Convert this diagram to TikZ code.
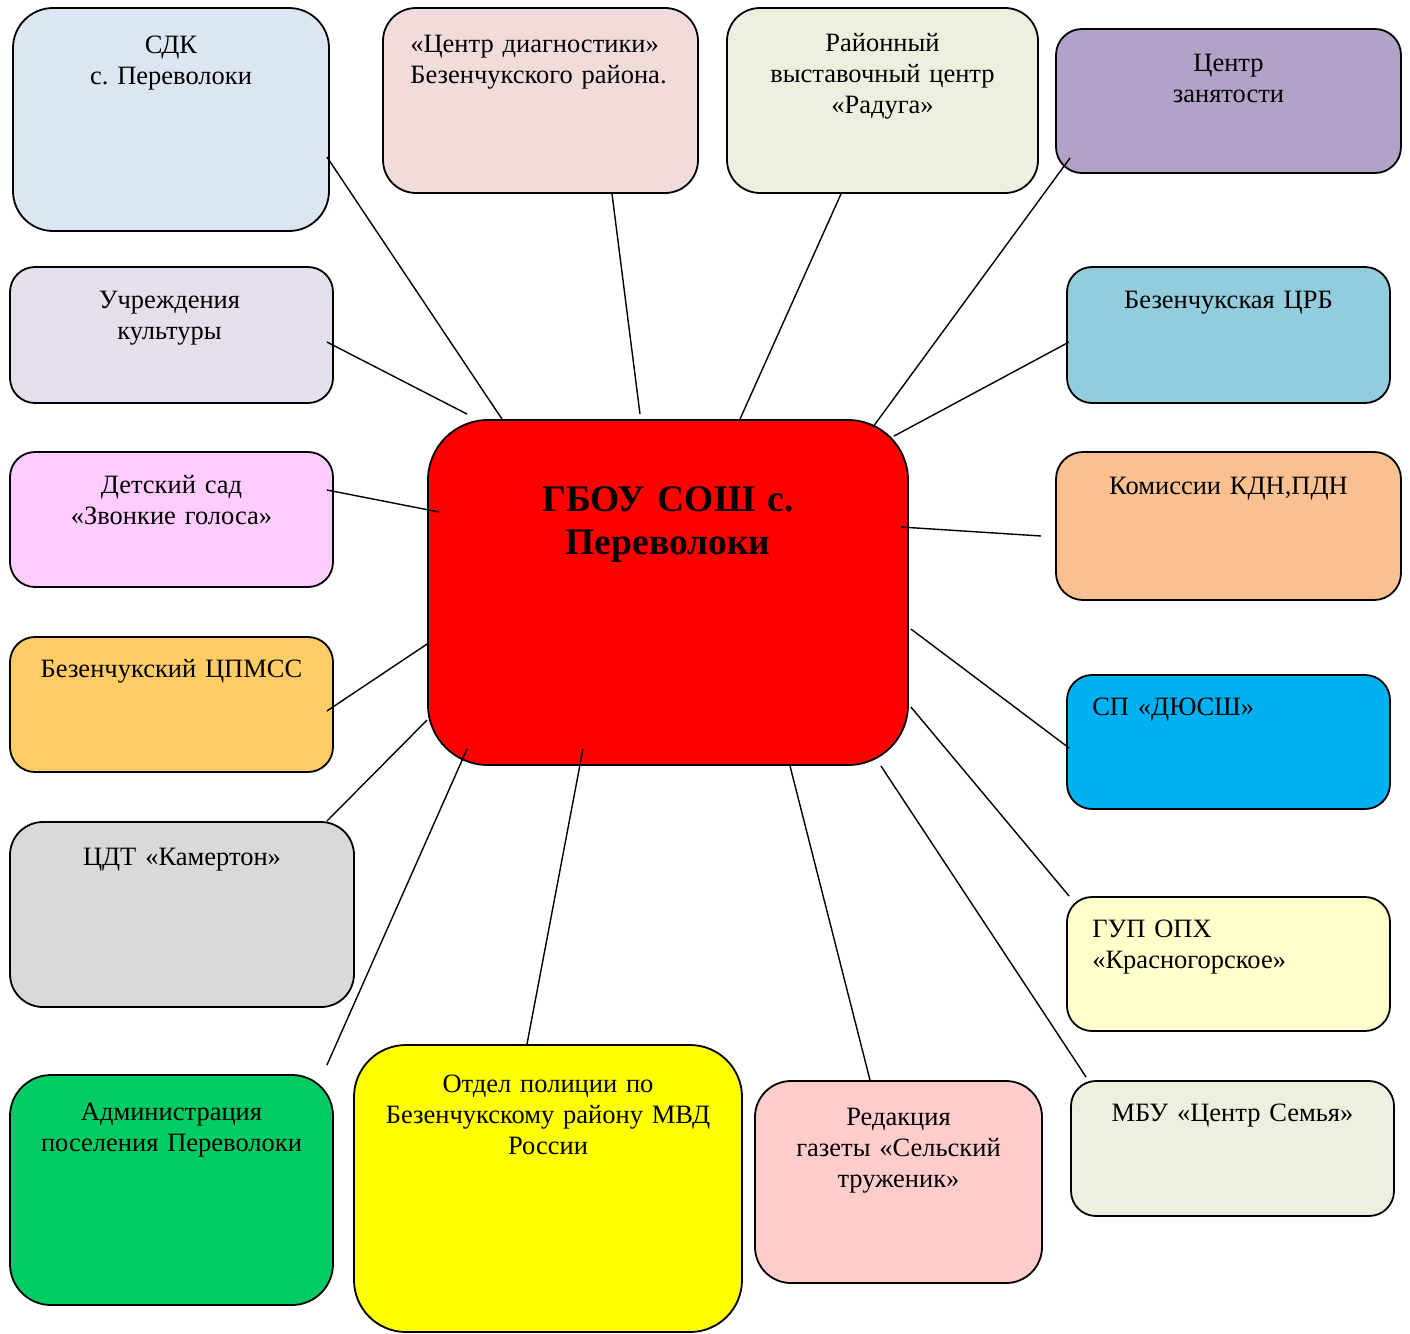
\documentclass[tikz,border=0pt]{standalone}
\usepackage{fontspec}
\setmainfont{Liberation Serif}
\frenchspacing
\usetikzlibrary{positioning}

\definecolor{sdkcol}{HTML}{DCE6F2}
\definecolor{diagcol}{HTML}{F2DCDB}
\definecolor{radcol}{HTML}{EBF1DE}
\definecolor{zancol}{HTML}{B3A2C7}
\definecolor{kultcol}{HTML}{E6E0EC}
\definecolor{crbcol}{HTML}{93CDDD}
\definecolor{sadcol}{HTML}{FFCCFF}
\definecolor{kdncol}{HTML}{FAC090}
\definecolor{cpmcol}{HTML}{FFCC66}
\definecolor{dyucol}{HTML}{00B0F0}
\definecolor{cdtcol}{HTML}{D9D9D9}
\definecolor{gupcol}{HTML}{FFFFCC}
\definecolor{admcol}{HTML}{00CC66}
\definecolor{polcol}{HTML}{FFFF00}
\definecolor{redcol}{HTML}{FFCCCC}
\definecolor{mbucol}{HTML}{EBF1DE}

\tikzset{
  box/.style={draw=black, line width=1.8pt, rounded corners=#1, inner sep=0pt},
  box/.default=25pt,
  txt/.style={font=\fontsize{26.5}{31}\selectfont\frenchspacing, text width=340pt, align=center, inner sep=0pt, anchor=base},
  ltxt/.style={txt, align=left, anchor=base west},
  link/.style={line width=1.4pt}
}

\begin{document}
\begin{tikzpicture}[x=1pt, y=-1pt]
\useasboundingbox (0,0) rectangle (1410,1333);

% boxes
\node[box=40pt, fill=sdkcol, minimum width=316pt, minimum height=223pt] (sdk) at (171,119.5) {};
\node[box=33pt, fill=diagcol, minimum width=315pt, minimum height=185pt] (diag) at (540.5,100.5) {};
\node[box=33pt, fill=radcol, minimum width=311pt, minimum height=185pt] (rad) at (882.5,100.5) {};
\node[box=26pt, fill=zancol, minimum width=345pt, minimum height=144pt] (zan) at (1228.5,101) {};
\node[box, fill=kultcol, minimum width=323pt, minimum height=136pt] (kult) at (171.5,335) {};
\node[box, fill=crbcol, minimum width=323pt, minimum height=136pt] (crb) at (1228.5,335) {};
\node[box, fill=sadcol, minimum width=323pt, minimum height=135pt] (sad) at (171.5,519.5) {};
\node[box=27pt, fill=kdncol, minimum width=345pt, minimum height=148pt] (kdn) at (1228.5,526) {};
\node[box, fill=cpmcol, minimum width=323pt, minimum height=135pt] (cpm) at (171.5,704.5) {};
\node[box, fill=dyucol, minimum width=323pt, minimum height=134pt] (dyu) at (1228.5,742) {};
\node[box=33pt, fill=cdtcol, minimum width=344pt, minimum height=185pt] (cdt) at (182,914.5) {};
\node[box, fill=gupcol, minimum width=323pt, minimum height=134pt] (gup) at (1228.5,964) {};
\node[box=41pt, fill=admcol, minimum width=323pt, minimum height=230pt] (adm) at (171.5,1190) {};
\node[box=52pt, fill=polcol, minimum width=388pt, minimum height=287pt] (pol) at (548,1188.5) {};
\node[box=36pt, fill=redcol, minimum width=287pt, minimum height=202pt] (red) at (898.5,1182) {};
\node[box, fill=mbucol, minimum width=323pt, minimum height=135pt] (mbu) at (1232.5,1148.5) {};
\node[box=60pt, fill=red, minimum width=480pt, minimum height=345pt] (gbou) at (668,592.5) {};

% texts
\node[txt] (sdktxt) at ([shift={(0,46)}]sdk.north) {СДК\\с. Переволоки};
\node[ltxt] (diagtxt) at ([shift={(28,45)}]diag.north west) {«Центр диагностики»\\Безенчукского района.};
\node[txt] (radtxt) at ([shift={(0,44)}]rad.north) {Районный\\выставочный центр\\«Радуга»};
\node[txt] (zantxt) at ([shift={(0,43)}]zan.north) {Центр\\занятости};
\node[txt] (kulttxt) at ([shift={(-2,42)}]kult.north) {Учреждения\\культуры};
\node[txt] (crbtxt) at ([shift={(0,42)}]crb.north) {Безенчукская ЦРБ};
\node[txt] (sadtxt) at ([shift={(0,42)}]sad.north) {Детский сад\\«Звонкие голоса»};
\node[txt] (kdntxt) at ([shift={(0,43)}]kdn.north) {Комиссии КДН,ПДН};
\node[txt] (cpmtxt) at ([shift={(0,41)}]cpm.north) {Безенчукский ЦПМСС};
\node[ltxt] (dyutxt) at ([shift={(26,41)}]dyu.north west) {СП «ДЮСШ»};
\node[txt] (cdttxt) at ([shift={(0,44)}]cdt.north) {ЦДТ «Камертон»};
\node[ltxt] (guptxt) at ([shift={(26,41)}]gup.north west) {ГУП ОПХ\\«Красногорское»};
\node[txt] (admtxt) at ([shift={(0,46)}]adm.north) {Администрация\\поселения Переволоки};
\node[txt] (poltxt) at ([shift={(0,48)}]pol.north) {Отдел полиции по\\Безенчукскому району МВД\\России};
\node[txt] (redtxt) at ([shift={(0,45)}]red.north) {Редакция\\газеты «Сельский\\труженик»};
\node[txt] (mbutxt) at ([shift={(0,41)}]mbu.north) {МБУ «Центр Семья»};
\node[txt, font=\fontsize{37.5}{43}\selectfont\bfseries\frenchspacing] (gboutxt) at ([shift={(0,92)}]gbou.north) {ГБОУ СОШ с.\\Переволоки};

% links
\draw[link] ([shift={(-3,37.5)}]sdk.east) -- ([shift={(-166,0)}]gbou.north);
\draw[link] ([shift={(71.5,0)}]diag.south) -- ([shift={(-28,-5)}]gbou.north);
\draw[link] ([shift={(-41.5,0)}]rad.south) -- ([shift={(72,0)}]gbou.north);
\draw[link] ([shift={(15,-16)}]zan.south west) -- ([shift={(-36,8)}]gbou.north east);
\draw[link] ([shift={(-7,7)}]kult.east) -- ([shift={(40,-5)}]gbou.north west);
\draw[link] ([shift={(3,7)}]crb.west) -- ([shift={(-15,17)}]gbou.north east);
\draw[link] ([shift={(-7,-29.5)}]sad.east) -- ([shift={(12,-80.5)}]gbou.west);
\draw[link] ([shift={(-14,10)}]kdn.west) -- ([shift={(-8,-65.5)}]gbou.east);
\draw[link] ([shift={(-7,6.5)}]cpm.east) -- ([shift={(0,51.5)}]gbou.west);
\draw[link] ([shift={(3,6)}]dyu.west) -- ([shift={(2,36.5)}]gbou.east);
\draw[link] ([shift={(-28,0)}]cdt.north east) -- ([shift={(0,127.5)}]gbou.west);
\draw[link] ([shift={(3,0)}]gup.north west) -- ([shift={(2,114.5)}]gbou.east);
\draw[link] ([shift={(-7,-9)}]adm.north east) -- ([shift={(40,-17)}]gbou.south west);
\draw[link] ([shift={(-21,0)}]pol.north) -- ([shift={(-85,-17)}]gbou.south);
\draw[link] ([shift={(-28.5,0)}]red.north) -- ([shift={(122,0)}]gbou.south);
\draw[link] ([shift={(16,-3)}]mbu.north west) -- ([shift={(-28,0)}]gbou.south east);

\end{tikzpicture}
\end{document}
